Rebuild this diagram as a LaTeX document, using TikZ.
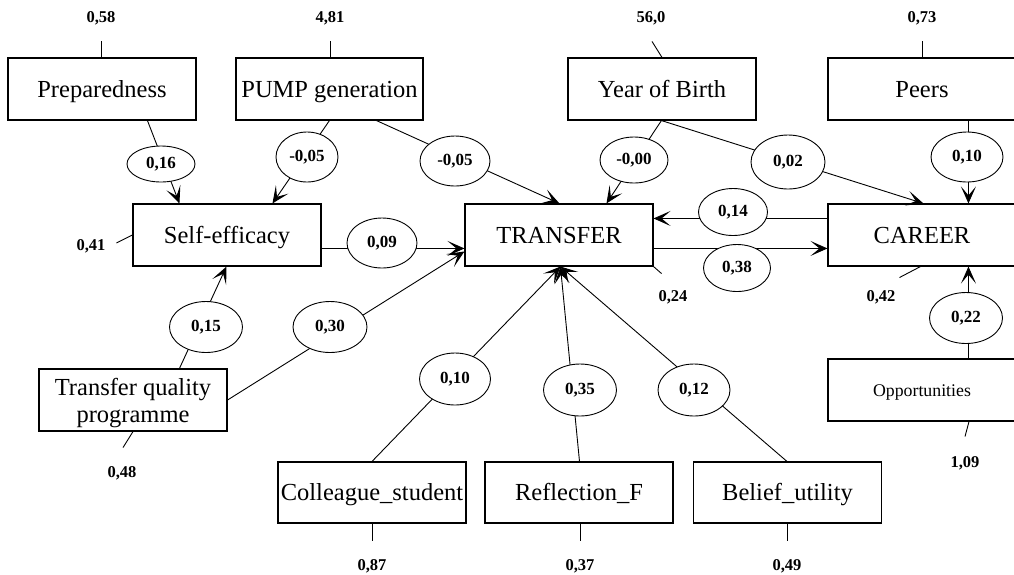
\documentclass[tikz,border=0pt]{standalone}
\usepackage{fontspec}
\setmainfont{Liberation Serif}
\usetikzlibrary{arrows.meta,shapes.geometric,calc}
\tikzset{
  box/.style={draw,line width=1.1pt,minimum width=188pt,minimum height=62pt,inner sep=0pt,font=\fontsize{24.5}{27}\selectfont,align=center,text height=20pt,text depth=3.8pt},
  coef/.style={draw,ellipse,line width=0.9pt,fill=white,inner sep=0pt,font=\fontsize{17}{17}\selectfont\bfseries},
  err/.style={inner sep=0pt,font=\fontsize{16.5}{16.5}\selectfont\bfseries},
  con/.style={line width=0.9pt},
  arr/.style={con,-{Stealth[length=17pt,width=15pt,inset=9pt]}}
}
\begin{document}
\begin{tikzpicture}[x=1pt,y=-1pt]
\useasboundingbox[fill=white] (0,0) rectangle (1014,574);
% boxes
\node[box] (prep) at (102,89) {Preparedness};
\node[box,minimum width=187pt] (pump) at (329.5,89) {PUMP generation};
\node[box] (year) at (662,89) {Year of Birth};
\node[box] (peers) at (922,89) {Peers};
\node[box] (self) at (227,235) {Self-efficacy};
\node[box] (transfer) at (559,235) {TRANSFER};
\node[box] (career) at (922,235) {CAREER};
\node[box,text height=46pt,text depth=2pt] (tqp) at (133,400) {Transfer quality\\programme};
\node[box,minimum height=61pt] (coll) at (372,492.5) {Colleague\_student};
\node[box,minimum height=61pt] (refl) at (579,492.5) {Reflection\_F};
\node[box,minimum height=61pt] (belief) at (787.5,492.5) {Belief\_utility};
\node[box,font=\fontsize{17.8}{20}\selectfont,text height=15pt,text depth=3pt] (opp) at (922,390) {Opportunities};
% error terms
\node[err] (r1) at (101,18) {0,58};
\node[err] (r2) at (330,18) {4,81};
\node[err] (r3) at (651,18) {56,0};
\node[err] (r4) at (922,18) {0,73};
\node[err] (r5) at (91,246) {0,41};
\node[err] (r6) at (673,297) {0,24};
\node[err] (r7) at (881,297) {0,42};
\node[err] (r8) at (122,473) {0,48};
\node[err] (r9) at (372,566) {0,87};
\node[err] (r10) at (580,566) {0,37};
\node[err] (r11) at (787,566) {0,49};
\node[err] (r12) at (965,463) {1,09};
\draw[con] ($(prep.north)+(-1,0)$) -- ++(0,-16);
\draw[con] ($(pump.north)+(0.5,0)$) -- ++(0,-16);
\draw[con] (year.north) -- ++(-10,-16);
\draw[con] (peers.north) -- ++(0,-16);
\draw[con] (self.west) -- ++(-16,8);
\draw[con] (transfer.south east) -- ++(8,7);
\draw[con] ($(career.south west)+(93,0)$) -- ++(-21,11);
\draw[con] (tqp.south) -- ++(-10,16);
\draw[con] (coll.south) -- ++(0,17);
\draw[con] ($(refl.south)+(1,0)$) -- ++(0,17);
\draw[con] ($(belief.south)+(-0.5,0)$) -- ++(0,17);
\draw[con] ($(opp.south)+(47,0)$) -- ++(-4,15);
% connectors
\draw[arr] ($(prep.south west)+(140,0)$) -- ($(self.north west)+(47,0)$);
\draw[arr] ($(pump.south west)+(94,0)$) -- ($(self.north west)+(140,0)$);
\draw[arr] ($(pump.south west)+(141,0)$) -- ($(transfer.north west)+(95,0)$);
\draw[arr] ($(year.south west)+(94,0)$) -- ($(transfer.north west)+(142,0)$);
\draw[arr] ($(year.south west)+(94,0)$) -- ($(career.north west)+(96,0)$);
\draw[arr] ($(peers.south west)+(141,0)$) -- ($(career.north west)+(141,0)$);
\draw[arr] ($(career.north west)+(0,15)$) -- ($(transfer.north east)+(0,15)$);
\draw[arr] ($(transfer.north east)+(0,45)$) -- ($(career.north west)+(0,45)$);
\draw[arr] ($(self.north east)+(0,45)$) -- ($(transfer.north west)+(0,45)$);
\draw[arr] ($(tqp.north west)+(141,0)$) -- ($(self.south west)+(94,0)$);
\draw[arr] (tqp.east) -- ($(transfer.north west)+(0,48)$);
\draw[arr] ($(coll.north)$) -- ($(transfer.south west)+(96,0)$);
\draw[arr] ($(refl.north)+(0.5,0)$) -- ($(transfer.south west)+(96,0)$);
\draw[arr] ($(belief.north)+(-0.5,0)$) -- ($(transfer.south west)+(96,0)$);
\draw[arr] ($(opp.north west)+(141,0)$) -- ($(career.south west)+(141,0)$);
% coefficients
\node[coef,minimum width=68pt,minimum height=36pt] (c1) at (161,164) {0,16};
\node[coef,minimum width=62pt,minimum height=50pt] (c2) at (307,157) {-0,05};
\node[coef,minimum width=70pt,minimum height=50pt] (c3) at (455,161) {-0,05};
\node[coef,minimum width=68pt,minimum height=46pt] (c4) at (634,160) {-0,00};
\node[coef,minimum width=74pt,minimum height=54pt] (c5) at (788,162) {0,02};
\node[coef,minimum width=72pt,minimum height=50pt] (c6) at (967,157) {0,10};
\node[coef,minimum width=69pt,minimum height=47pt] (c7) at (733,212) {0,14};
\node[coef,minimum width=67pt,minimum height=47pt] (c8) at (737,268) {0,38};
\node[coef,minimum width=70pt,minimum height=50pt] (c9) at (382,243) {0,09};
\node[coef,minimum width=73pt,minimum height=51pt] (c10) at (206,327) {0,15};
\node[coef,minimum width=74pt,minimum height=51pt] (c11) at (330,327) {0,30};
\node[coef,minimum width=71pt,minimum height=52pt] (c12) at (455,379) {0,10};
\node[coef,minimum width=73pt,minimum height=52pt] (c13) at (580,390) {0,35};
\node[coef,minimum width=72pt,minimum height=52pt] (c14) at (694,390) {0,12};
\node[coef,minimum width=73pt,minimum height=51pt] (c15) at (966,318) {0,22};
\end{tikzpicture}
\end{document}
